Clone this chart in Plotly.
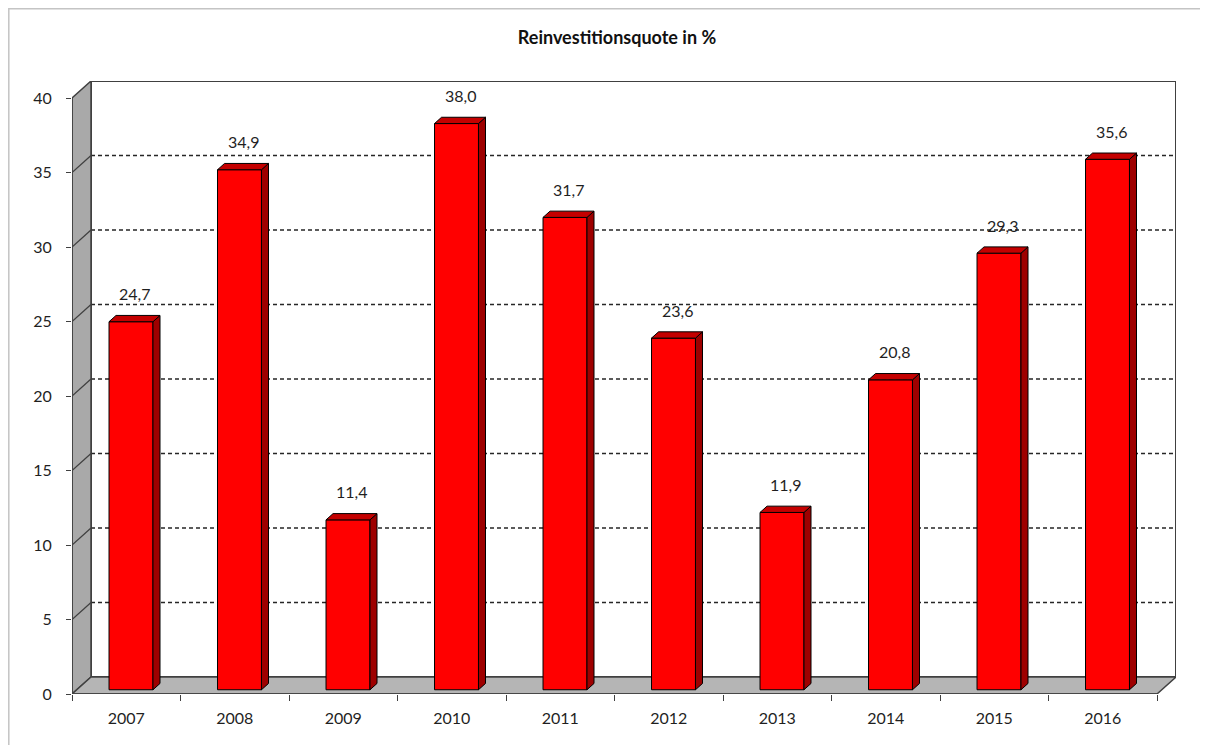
"""Reinvestitionsquote in % — Excel-artiges 3D-Säulendiagramm mit Plotly."""
import plotly.graph_objects as go

years = ["2007", "2008", "2009", "2010", "2011", "2012", "2013", "2014", "2015", "2016"]
quote = [24.7, 34.9, 11.4, 38.0, 31.7, 23.6, 11.9, 20.8, 29.3, 35.6]
y_ticks = [0, 5, 10, 15, 20, 25, 30, 35, 40]

# die Seite hat 8px body-Rand, also Figur um 8px kleiner
W, H = 1200, 737
L, R, T, B = 64, 32, 73, 51
Y_MAX = 40
DX_PX, DY_PX = 19, 17                  # Tiefe der 3D-Wand in Pixeln
CAT_PX = (W - L - R - DX_PX) / len(years)
DX = DX_PX / CAT_PX                    # Tiefe in x-Einheiten
DY = DY_PX * Y_MAX / (H - T - B - DY_PX)   # Tiefe in y-Einheiten
F0, F1 = 0.25, 0.62                    # Vorder-/Rückseite der Säulen in der Tiefe
BAR_W = 0.405

FONT = "Lato"
TXT = "#1f1f1f"
GRID = "#262626"
EDGE = "#404040"

xs = list(range(len(years)))
x0 = -0.5
x1 = len(years) - 0.5

fig = go.Figure()

shapes = []
# Rückwand mit Gitterlinien
shapes.append(dict(type="rect", x0=x0 + DX, x1=x1 + DX, y0=DY, y1=Y_MAX + DY,
                   line=dict(color=EDGE, width=2), fillcolor="white", layer="below"))
for v in y_ticks[1:-1]:
    shapes.append(dict(type="line", x0=x0 + DX, x1=x1 + DX, y0=v + DY, y1=v + DY,
                       line=dict(color=GRID, width=1.4, dash="4px,3px"), layer="below"))
# linke Wand
shapes.append(dict(type="path",
                   path=f"M {x0},0 L {x0 + DX},{DY} L {x0 + DX},{Y_MAX + DY} L {x0},{Y_MAX} Z",
                   fillcolor="#a9a9a9", line=dict(color=EDGE, width=1.5), layer="below"))
for v in y_ticks[1:-1]:
    shapes.append(dict(type="line", x0=x0, x1=x0 + DX, y0=v, y1=v + DY,
                       line=dict(color=EDGE, width=1.3), layer="below"))
# Boden
shapes.append(dict(type="path",
                   path=f"M {x0},0 L {x1},0 L {x1 + DX},{DY} L {x0 + DX},{DY} Z",
                   fillcolor="#b5b5b5", line=dict(color=EDGE, width=1.5), layer="below"))
# Achsenlinien vorne
shapes.append(dict(type="line", x0=x0, x1=x1, y0=0, y1=0,
                   line=dict(color=EDGE, width=1.5), layer="below"))
shapes.append(dict(type="line", x0=x0, x1=x0, y0=0, y1=Y_MAX,
                   line=dict(color=EDGE, width=1.5), layer="below"))
# Rahmen um das Diagramm
shapes.append(dict(type="rect", xref="paper", yref="paper",
                   x0=(0.8 - L) / (W - L - R), x1=1.2,
                   y0=-0.3, y1=(H - B - 0.8) / (H - T - B),
                   line=dict(color="#c4c4c4", width=1.5), layer="below"))

# Säulen: Vorderseite
b0 = F0 * DY
fx = [i + F0 * DX for i in xs]
fig.add_trace(go.Bar(x=fx, y=quote, base=b0, width=BAR_W,
                     marker=dict(color="#ff0000", line=dict(color="#000000", width=1)),
                     hoverinfo="skip"))

# Säulen: Oberseite und rechte Seite
d = (F1 - F0) * DX
e = (F1 - F0) * DY
top_x, top_y, side_x, side_y = [], [], [], []
for cx, v in zip(fx, quote):
    xl, xr = cx - BAR_W / 2, cx + BAR_W / 2
    h = v + b0
    top_x += [xl, xr, xr + d, xl + d, xl, None]
    top_y += [h, h, h + e, h + e, h, None]
    side_x += [xr, xr, xr + d, xr + d, xr, None]
    side_y += [b0, h, h + e, b0 + e, b0, None]
fig.add_trace(go.Scatter(x=side_x, y=side_y, mode="lines", fill="toself",
                         fillcolor="#9e0000", line=dict(color="#000000", width=1),
                         hoverinfo="skip"))
fig.add_trace(go.Scatter(x=top_x, y=top_y, mode="lines", fill="toself",
                         fillcolor="#c40000", line=dict(color="#000000", width=1),
                         hoverinfo="skip"))

# Datenbeschriftungen
annotations = []
for cx, v in zip(fx, quote):
    annotations.append(dict(x=cx + d / 2, y=v + b0, text=f"{v:.1f}".replace(".", ","),
                            showarrow=False, yshift=28, yanchor="middle",
                            font=dict(family=FONT, size=16, color=TXT)))

fig.update_layout(
    width=W, height=H,
    margin=dict(l=L, r=R, t=T, b=B),
    paper_bgcolor="white", plot_bgcolor="rgba(0,0,0,0)",
    showlegend=False,
    title=dict(text="<b>Reinvestitionsquote in %</b>", xref="container", yref="container",
               x=(617 - 8) / W, y=1 - (38 - 8) / H, xanchor="center", yanchor="middle",
               font=dict(family=FONT, size=18, color="#111111")),
    xaxis=dict(range=[x0, x1 + DX], showgrid=False, zeroline=False, showline=False,
               tickvals=xs, ticktext=years, ticks="", ticklabelstandoff=13,
               tickfont=dict(family=FONT, size=16, color=TXT),
               minor=dict(tickvals=[i - 0.5 for i in range(len(years) + 1)],
                          ticks="outside", ticklen=6, tickcolor=EDGE, tickwidth=1.3,
                          showgrid=False)),
    yaxis=dict(range=[0, Y_MAX + DY], showgrid=False, zeroline=False, showline=False,
               tickvals=y_ticks, ticks="outside", ticklen=5, tickcolor=EDGE, tickwidth=1.3,
               ticklabelstandoff=11,
               tickfont=dict(family=FONT, size=16, color=TXT)),
    shapes=shapes,
    annotations=annotations,
)

fig.write_html("out.html")
